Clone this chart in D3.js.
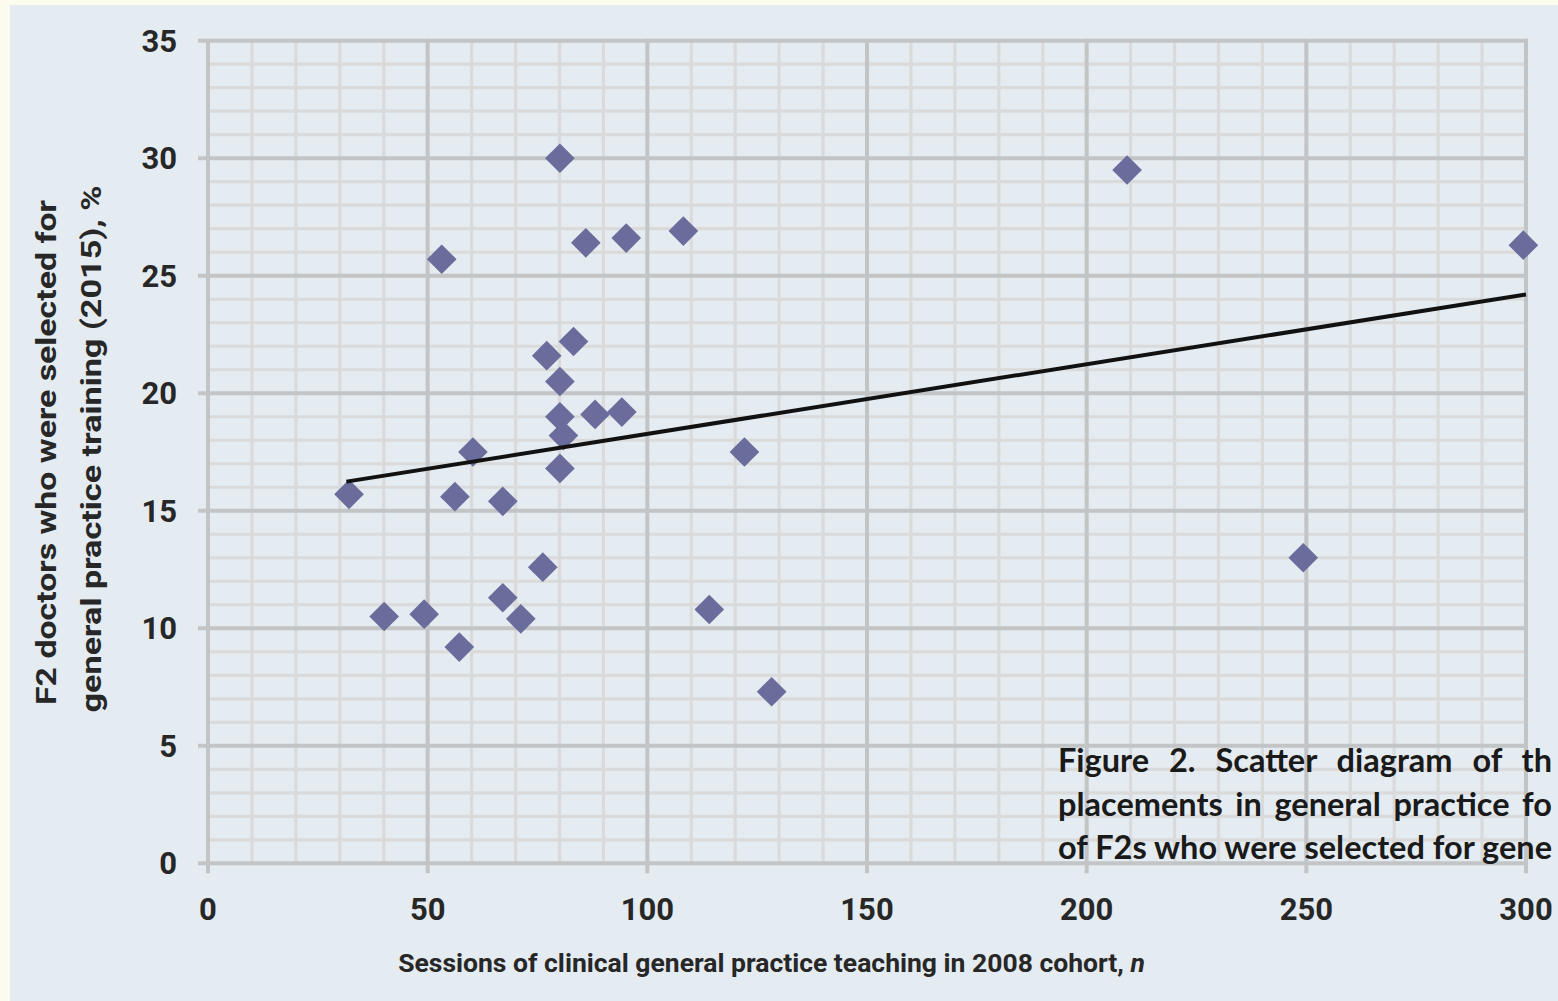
<!DOCTYPE html>
<html><head><meta charset="utf-8">
<script src="https://cdn.jsdelivr.net/npm/d3@7/dist/d3.min.js"></script>
<style>
html,body{margin:0;padding:0;background:#fbfcee;overflow:hidden;}
svg{display:block;}
</style></head>
<body>
<svg id="chart" width="1558" height="1001"></svg>
<script>
// ---- data ----
const sessions = [32.1, 40.1, 49.2, 53.2, 56.2, 57.2, 60.3, 67.1, 67.1, 71.2, 76.2, 77.1, 80.1, 80.1, 80.1, 80.9, 80.1, 83.2, 86.0, 88.1, 94.2, 95.2, 108.2, 114.1, 122.1, 128.3, 209.2, 249.3, 299.4];
const selectedPct = [15.7, 10.5, 10.6, 25.7, 15.6, 9.2, 17.5, 15.4, 11.3, 10.4, 12.6, 21.6, 30.0, 20.5, 19.0, 18.2, 16.8, 22.2, 26.4, 19.1, 19.2, 26.6, 26.9, 10.8, 17.5, 7.3, 29.5, 13.0, 26.3];
const trendX = [31.5, 300];
const trendY = [16.24, 24.2];
const xTicks = [0, 50, 100, 150, 200, 250, 300];
const yTicks = [0, 5, 10, 15, 20, 25, 30, 35];
const xMinorStep = 10;
const yMinorStep = 1;
const xTitle = "Sessions of clinical general practice teaching in 2008 cohort, ";
const xTitleItalic = "n";
const yTitleLines = ["F2 doctors who were selected for", "general practice training (2015), %"];
const captionLines = [
  "Figure 2. Scatter diagram of th",
  "placements in general practice fo",
  "of F2s who were selected for gene"
];

(function () {
// ---- layout ----
const svg = d3.select("#chart");
const pLeft = 208, pRight = 1526, pTop = 40.7, pBottom = 863.3;
const x = d3.scaleLinear().domain([0, 300]).range([pLeft, pRight]);
const y = d3.scaleLinear().domain([0, 35]).range([pBottom, pTop]);

svg.append("rect").attr("x", 10).attr("y", 5).attr("width", 1558).attr("height", 1001).attr("fill", "#e4ebf1");

const minorX = d3.range(0, 300 + 1e-9, xMinorStep).filter(v => v % 50 !== 0);
const minorY = d3.range(0, 35 + 1e-9, yMinorStep).filter(v => v % 5 !== 0);

const g = svg.append("g");
g.append("g").selectAll("line").data(minorX).join("line")
  .attr("x1", d => x(d)).attr("x2", d => x(d)).attr("y1", pTop).attr("y2", pBottom)
  .attr("stroke", "#dadada").attr("stroke-width", 3.2);
g.append("g").selectAll("line").data(minorY).join("line")
  .attr("x1", pLeft).attr("x2", pRight).attr("y1", d => y(d)).attr("y2", d => y(d))
  .attr("stroke", "#dadada").attr("stroke-width", 3.2);
g.append("g").selectAll("line").data(xTicks).join("line")
  .attr("x1", d => x(d)).attr("x2", d => x(d)).attr("y1", pTop - 2).attr("y2", pBottom + 10)
  .attr("stroke", "#c3c4c5").attr("stroke-width", 4);
g.append("g").selectAll("line").data(yTicks).join("line")
  .attr("x1", pLeft - 10).attr("x2", pRight + 2).attr("y1", d => y(d)).attr("y2", d => y(d))
  .attr("stroke", "#c3c4c5").attr("stroke-width", 4);

// tick labels
const tickFont = "Roboto, 'DejaVu Sans', sans-serif";
const ink = "#272727";
svg.append("g").selectAll("text").data(yTicks).join("text")
  .attr("x", 177).attr("y", d => y(d) + 11)
  .attr("text-anchor", "end").attr("font-family", tickFont).attr("font-weight", 700)
  .attr("font-size", 31).attr("fill", ink).text(d => d);
svg.append("g").selectAll("text").data(xTicks).join("text")
  .attr("x", d => x(d)).attr("y", 920)
  .attr("text-anchor", "middle").attr("font-family", tickFont).attr("font-weight", 700)
  .attr("font-size", 31).attr("fill", ink).text(d => d);

// axis titles
const xt = svg.append("text").attr("x", 771.5).attr("y", 972).attr("text-anchor", "middle")
  .attr("font-family", tickFont).attr("font-weight", 700).attr("font-size", 26.5).attr("fill", ink);
xt.append("tspan").text(xTitle);
xt.append("tspan").attr("font-style", "italic").text(xTitleItalic);

const yPos = [[56, 452.5, 505], [101, 449, 527]];
svg.append("g").selectAll("text").data(yTitleLines).join("text")
  .attr("transform", (d, i) => `translate(${yPos[i][0]},${yPos[i][1]}) rotate(-90)`)
  .attr("text-anchor", "middle").attr("font-family", tickFont).attr("font-weight", 700)
  .attr("font-size", 28).attr("fill", ink)
  .attr("textLength", (d, i) => yPos[i][2]).attr("lengthAdjust", "spacingAndGlyphs")
  .text(d => d);

// points
const pts = sessions.map((v, i) => [v, selectedPct[i]]);
const diamond = d3.symbol().type(d3.symbolSquare).size(440);
svg.append("g").selectAll("path").data(pts).join("path")
  .attr("d", diamond)
  .attr("transform", d => `translate(${x(d[0])},${y(d[1])}) rotate(45)`)
  .attr("fill", "#6a6c9c");

// trend line
svg.append("path")
  .datum(trendX.map((v, i) => [v, trendY[i]]))
  .attr("d", d3.line().x(d => x(d[0])).y(d => y(d[1])))
  .attr("stroke", "#111").attr("stroke-width", 4).attr("fill", "none");

// caption (visible part of the figure caption, justified)
const capX = 1058, capRight = 1552;
const capFont = "Lato, 'Open Sans', sans-serif";
const probe = svg.append("text").attr("font-family", capFont).attr("font-weight", 700)
  .attr("font-size", 100);
const w2 = probe.text(captionLines[1]).node().getComputedTextLength();
const w3 = probe.text(captionLines[2]).node().getComputedTextLength();
probe.remove();
const capSize = Math.min(33, 100 * (capRight - capX) / Math.max(w2, w3));
const caps = svg.append("g").selectAll("text").data(captionLines).join("text")
  .attr("x", capX).attr("y", (d, i) => 772 + i * 43.5)
  .attr("font-family", capFont).attr("font-weight", 700)
  .attr("font-size", capSize).attr("fill", "#1a1a1a")
  .text(d => d);
caps.each(function (d, i) {
  const el = d3.select(this);
  const natural = this.getComputedTextLength();
  const gaps = d.split(" ").length - 1;
  el.attr("word-spacing", Math.max(0, (capRight - capX - natural) / gaps));
});
})();
</script>
</body></html>
